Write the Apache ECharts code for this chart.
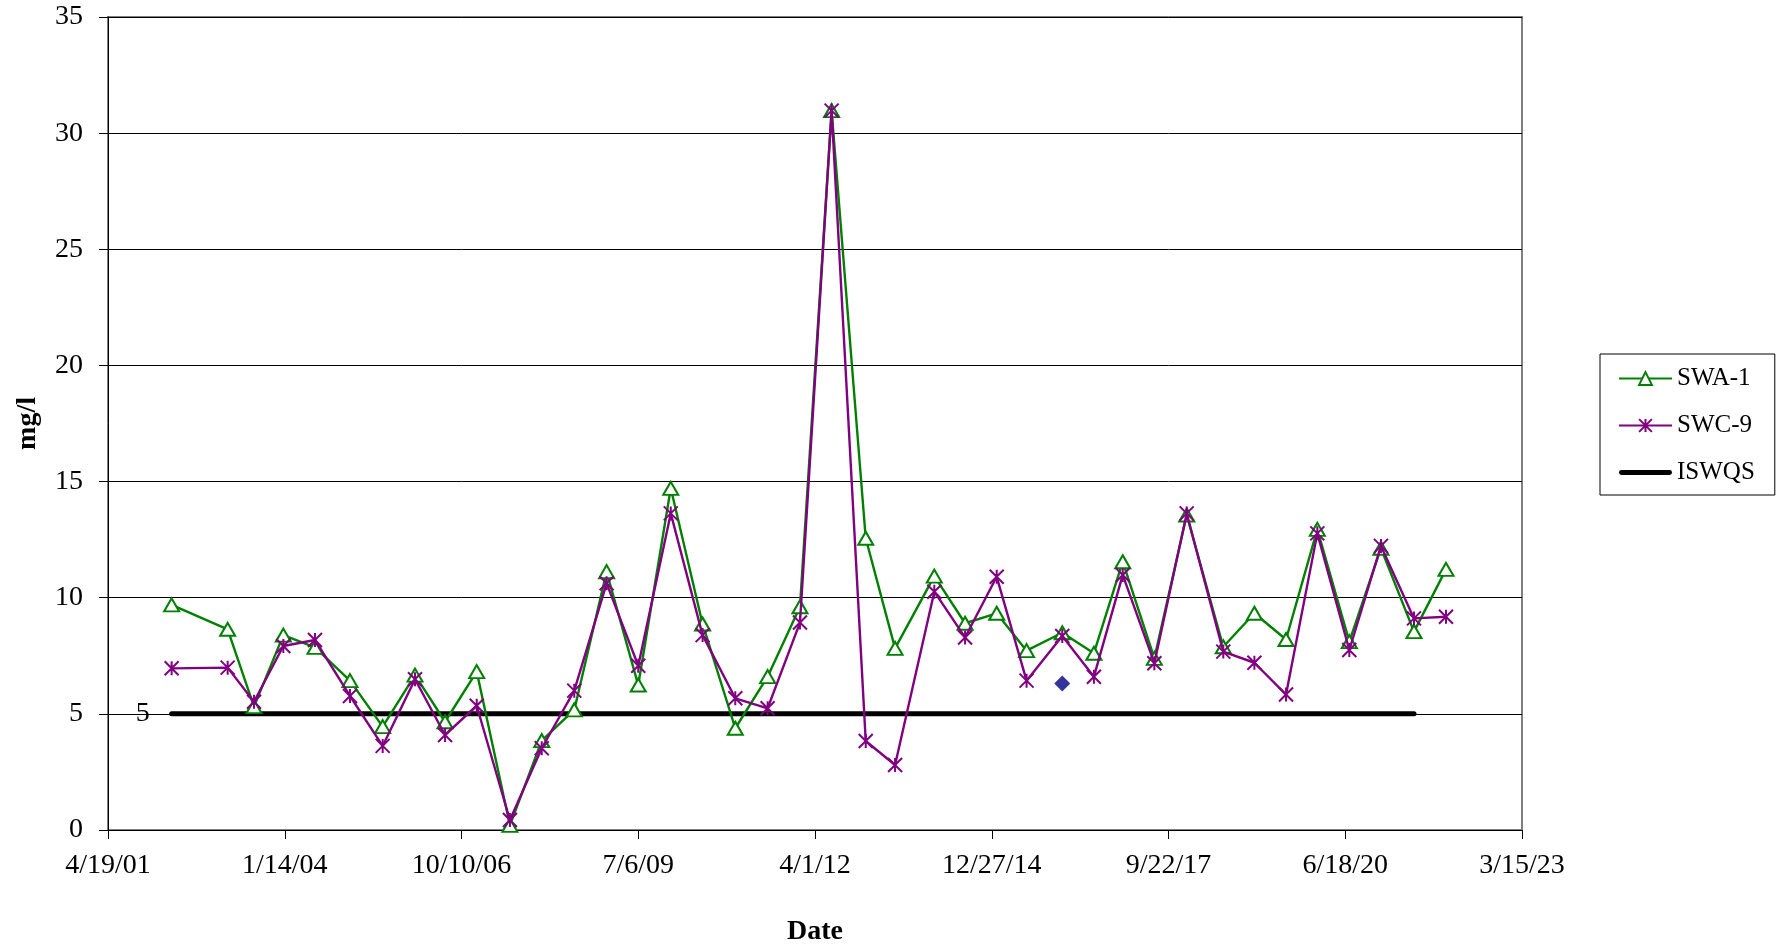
<!DOCTYPE html>
<html>
<head>
<meta charset="utf-8">
<title>SWA-1 / SWC-9</title>
<script src="https://cdn.jsdelivr.net/npm/echarts@6/dist/echarts.min.js"></script>
<style>
  html, body { margin: 0; padding: 0; background: #fff; }
  #chart { width: 1780px; height: 947px; }
</style>
</head>
<body>
<div id="chart"></div>
<script>
// sample dates as Excel day serials (37000 = 4/19/01)
const sampleDays = [
  37360, 37677, 37826, 37992, 38171, 38369, 38554, 38737, 38907, 39086,
  39274, 39454, 39638, 39821, 40000, 40184, 40364, 40549, 40732, 40915,
  41094, 41287, 41453, 41675, 41849, 42028, 42197, 42399, 42578, 42741,
  42920, 43103, 43310, 43486, 43665, 43842, 44023, 44202, 44389, 44570
]
const swa1 = [
  9.69, 8.64, 5.31, 8.39, 7.86, 6.43, 4.45, 6.67, 4.66, 6.82,
  0.2, 3.85, 5.17, 11.12, 6.24, 14.71, 8.87, 4.38, 6.6, 9.61,
  30.97, 12.56, 7.82, 10.93, 8.9, 9.33, 7.72, 8.49, 7.61, 11.55,
  7.39, 13.56, 7.89, 9.33, 8.2, 12.94, 8.11, 12.13, 8.54, 11.22
]
const swc9 = [
  6.96, 6.99, 5.52, 7.92, 8.18, 5.77, 3.62, 6.49, 4.09, 5.35,
  0.43, 3.52, 6.0, 10.62, 7.07, 13.63, 8.39, 5.67, 5.24, 8.93,
  30.97, 3.83, 2.8, 10.26, 8.29, 10.9, 6.43, 8.35, 6.6, 10.98,
  7.18, 13.63, 7.68, 7.2, 5.83, 12.77, 7.75, 12.23, 9.11, 9.18
]
// single extra sample (navy diamond, not in legend)
const extraDays = [42399]
const extraValues = [6.31]
// standard line
const iswqsDays = [37360, 44389]
const iswqsValue = 5

const xTicks = { min: 37000, max: 45000, step: 1000 }
const yTicks = { min: 0, max: 35, step: 5 }

const font = 'Liberation Serif'

function serialToLabel(v) {
  const d = new Date(Date.UTC(1899, 11, 30) + v * 86400000)
  return (d.getUTCMonth() + 1) + '/' + d.getUTCDate() + '/' + String(d.getUTCFullYear()).slice(2)
}

const pairs = (xs, ys) => xs.map((x, i) => [x, ys[i]])

const chart = echarts.init(document.getElementById('chart'))
const option = {
  animation: false,
  backgroundColor: '#fff',
  textStyle: { fontFamily: font, color: '#000' },
  grid: {
    left: 108,
    right: 258,
    top: 17,
    bottom: 117,
    show: true,
    borderColor: '#808080',
    borderWidth: 2,
    outerBoundsMode: 'none'
  },
  legend: {
    data: [
      'SWA-1',
      'SWC-9',
      // plain thick bar, no marker
      { name: 'ISWQS', icon: 'path://M2,0L51,0A2.5,2.5,0,0,1,51,5L2,5A2.5,2.5,0,0,1,2,0Z' }
    ],
    orient: 'vertical',
    left: 1600,
    top: 354,
    padding: [12, 20, 10, 18],
    itemGap: 22,
    itemWidth: 53,
    itemHeight: 16,
    borderColor: '#000',
    borderWidth: 1,
    textStyle: { fontFamily: font, fontSize: 25, color: '#000' }
  },
  xAxis: {
    type: 'value',
    min: xTicks.min,
    max: xTicks.max,
    interval: xTicks.step,
    name: 'Date',
    nameLocation: 'middle',
    nameGap: 88,
    nameTextStyle: { fontFamily: font, fontSize: 28, fontWeight: 'bold', color: '#000' },
    axisLine: { show: true, lineStyle: { color: '#000', width: 1 } },
    axisTick: { show: true, length: 9, lineStyle: { color: '#000' } },
    axisLabel: {
      margin: 22,
      fontFamily: font,
      fontSize: 28,
      color: '#000',
      formatter: serialToLabel
    },
    splitLine: { show: false }
  },
  yAxis: {
    type: 'value',
    min: yTicks.min,
    max: yTicks.max,
    interval: yTicks.step,
    name: 'mg/l',
    nameLocation: 'middle',
    nameGap: 66,
    nameTextStyle: { fontFamily: font, fontSize: 28, fontWeight: 'bold', color: '#000' },
    axisLine: { show: true, lineStyle: { color: '#000', width: 1 } },
    axisTick: { show: true, length: 9, lineStyle: { color: '#000' } },
    axisLabel: { margin: 25, fontFamily: font, fontSize: 28, color: '#000' },
    splitLine: { show: true, lineStyle: { color: '#000', width: 1 } }
  },
  series: [
    {
      name: 'ISWQS',
      type: 'line',
      data: iswqsDays.map(d => [d, iswqsValue]),
      symbol: 'none',
      lineStyle: { color: '#000', width: 5, cap: 'round' },
      itemStyle: { color: '#000' },
      z: 2,
      markPoint: {
        symbol: 'circle',
        symbolSize: 0,
        data: [{ coord: [iswqsDays[0], iswqsValue] }],
        label: {
          show: true,
          position: 'left',
          distance: 22,
          formatter: String(iswqsValue),
          fontFamily: font,
          fontSize: 28,
          color: '#000'
        }
      }
    },
    {
      name: 'SWA-1',
      type: 'line',
      data: pairs(sampleDays, swa1),
      symbol: 'emptyTriangle',
      symbolSize: [15, 13],
      lineStyle: { color: '#008000', width: 2.4 },
      itemStyle: { color: '#008000', borderWidth: 2 },
      z: 3
    },
    {
      name: 'SWC-9',
      type: 'line',
      data: pairs(sampleDays, swc9),
      symbol: 'path://M0,0L10,10M10,0L0,10M5,0L5,10',
      symbolSize: 14,
      lineStyle: { color: '#800080', width: 2.4 },
      itemStyle: { color: '#800080', borderColor: '#800080', borderWidth: 2 },
      z: 4
    },
    {
      name: 'extra',
      type: 'scatter',
      data: pairs(extraDays, extraValues),
      symbol: 'diamond',
      symbolSize: 16,
      itemStyle: { color: '#000080' },
      z: 5
    }
  ]
}
chart.setOption(option)
window.addEventListener('resize', () => chart.resize())
</script>
</body>
</html>
